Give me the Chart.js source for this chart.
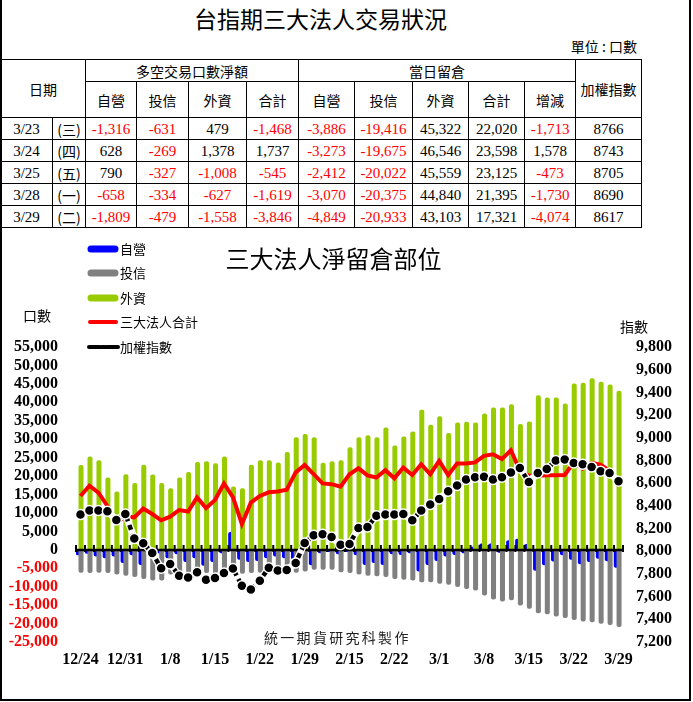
<!DOCTYPE html>
<html>
<head>
<meta charset="utf-8">
<script src="https://cdn.jsdelivr.net/npm/chart.js@4.4.1/dist/chart.umd.min.js"></script>
<style>
  body { margin: 0; background: #fff; }
  #page { position: relative; width: 693px; height: 702px; overflow: hidden; font-family: "Noto Sans CJK TC", sans-serif; color: #000; }
  #frame { position: absolute; left: 0; top: -3px; width: 691px; height: 704px; box-sizing: border-box; border: 2px solid #000; }
  .abs { position: absolute; white-space: nowrap; }
  #title { left: 0; top: 4px; width: 641px; text-align: center; font-size: 23px; line-height: 28px; }
  #unit { left: 560px; top: 37px; width: 77px; text-align: right; font-size: 14px; line-height: 18px; }
  #tbl { position: absolute; left: 0; top: 59px; border-collapse: collapse; table-layout: fixed; width: 642px; }
  #tbl td { border: 1px solid #000; text-align: center; padding: 0; font-size: 14px; line-height: 16px; }
  #tbl td.n { font-family: "Liberation Serif", serif; font-size: 15px; }
  #tbl td.neg { color: #f00; }
  #oi { position: absolute; left: 0; top: 230px; }
  #ctitle { left: 0; top: 243px; width: 667px; text-align: center; font-size: 24px; line-height: 30px; }
  .lg { position: absolute; left: 86px; height: 18px; font-size: 13px; line-height: 18px; }
  .lg svg { position: absolute; left: 0; top: 4px; }
  .lg span { position: absolute; left: 34px; top: 0; white-space: nowrap; }
  #ylab { left: 23px; top: 306px; font-size: 14px; line-height: 18px; }
  #y1lab { left: 620px; top: 317px; font-size: 14px; line-height: 18px; }
  #mark { left: 264px; top: 628px; font-size: 14px; line-height: 18px; letter-spacing: 2.3px; color: #222; }
</style>
</head>
<body>
<div id="page">
  <div class="abs" id="title">台指期三大法人交易狀況</div>
  <div class="abs" id="unit">單位 : 口數</div>
  <table id="tbl"></table>
  <canvas id="oi" width="693" height="472"></canvas>
  <div class="abs" id="ctitle">三大法人淨留倉部位</div>
  <div id="legend"></div>
  <div class="abs" id="ylab">口數</div>
  <div class="abs" id="y1lab">指數</div>
  <div class="abs" id="mark">統一期貨研究科製作</div>
  <div id="frame"></div>
</div>
<script>
// trading days, 12/24 .. 3/29
const dates = ['12/24','12/25','12/28','12/29','12/30','12/31','1/4','1/5','1/6','1/7',
  '1/8','1/11','1/12','1/13','1/14','1/15','1/18','1/19','1/20','1/21',
  '1/22','1/25','1/26','1/27','1/28','1/29','1/30','2/1','2/2','2/3',
  '2/15','2/16','2/17','2/18','2/19','2/22','2/23','2/24','2/25','2/26',
  '3/1','3/2','3/3','3/4','3/7','3/8','3/9','3/10','3/11','3/14',
  '3/15','3/16','3/17','3/18','3/21','3/22','3/23','3/24','3/25','3/28','3/29'];

// net open interest (contracts)
const dealer = [-1500,-1100,-1800,-2300,-1800,-3600,-1500,-4100,-1400,-900,
  -2300,-1200,-3300,-2300,-4300,-3300,-900,4800,-2700,-3300,
  -3000,-2300,-1800,-2300,-2700,-900,-4200,-900,-600,-1200,
  -600,-1500,-4100,-3600,-4100,-1200,-1400,-900,-5900,-4100,
  -3000,-1800,-1400,-900,800,1700,1700,-800,2600,3000,
  1600,-5700,-4200,-3200,-1500,-2700,-3886,-3273,-2412,-3070,-4849];
const trust = [-6200,-6300,-6200,-6300,-6700,-7000,-7400,-7900,-8300,-8300,
  -6700,-6500,-6300,-6500,-6300,-6700,-6500,-6500,-6500,-6300,
  -6200,-6100,-6100,-6200,-6200,-5900,-5400,-5400,-5400,-6100,
  -6300,-6700,-7000,-7200,-7400,-7900,-8100,-8300,-8800,-8800,
  -9200,-9500,-10100,-10600,-11000,-12400,-13500,-14000,-13700,-15100,
  -16000,-17200,-17500,-18100,-18500,-19000,-19416,-19675,-20022,-20375,-20933];
const foreign = [23000,25300,24300,19600,15800,20500,18100,23100,20400,18100,
  16700,19600,21100,23800,24000,23500,25300,17200,16700,23100,
  24300,24300,23700,26500,30500,31400,30500,23600,24000,24300,
  27800,30500,31100,30500,33200,28300,30700,32100,38000,33900,
  36200,31700,34500,34700,34500,37000,38600,38600,39500,34100,
  34800,41900,41300,41300,39700,45100,45322,46546,45559,44840,43103];
const total = [14600,17400,15500,11900,7500,9000,8800,11200,9700,8000,
  9000,10800,10400,14200,11300,13500,18000,14300,7000,12800,
  14600,15600,15800,16300,21000,23000,20500,18000,17800,17100,
  20500,22100,20200,19600,21600,19400,22300,20300,23200,20500,
  24100,20300,23400,23400,23700,25500,25900,24600,27000,21500,
  20100,20100,20200,20200,20300,23733,22020,23598,23125,21395,17321];
const taiex = [8323,8359,8359,8352,8275,8329,8112,8070,7985,7850,
  7888,7783,7768,7815,7748,7765,7809,7848,7695,7662,
  7740,7855,7830,7835,7897,8073,8140,8150,8125,8058,
  8064,8205,8214,8312,8323,8323,8329,8273,8359,8411,
  8460,8529,8579,8632,8653,8656,8632,8653,8695,8734,
  8611,8690,8725,8800,8808,8778,8766,8743,8705,8690,8617];

// table: last five sessions
const tblDays = ['3/23','3/24','3/25','3/28','3/29'];
const tblWeek = ['(三)','(四)','(五)','(一)','(二)'];
const netDealer = [-1316, 628, 790, -658, -1809];
const netTrust = [-631, -269, -327, -334, -479];
const netForeign = [479, 1378, -1008, -627, -1558];
const netTotal = [-1468, 1737, -545, -1619, -3846];
const oiChange = [-1713, 1578, -473, -1730, -4074];

// ---- table ----
function fmt(v) { return v.toLocaleString('en-US'); }
function numCell(v, plain) {
  return '<td class="n' + (v < 0 ? ' neg' : '') + '">' + (plain ? String(v) : fmt(v)) + '</td>';
}
const colW = [52, 33, 51, 52, 58, 52, 56, 58, 56, 56, 51, 66];
let html = '<colgroup>' + colW.map(w => '<col style="width:' + w + 'px">').join('') + '</colgroup>';
html += '<tr style="height:22px"><td colspan="2" rowspan="2">日期</td><td colspan="4">多空交易口數淨額</td>' +
  '<td colspan="5">當日留倉</td><td rowspan="2">加權指數</td></tr>';
html += '<tr style="height:36px">' + ['自營','投信','外資','合計','自營','投信','外資','合計','增減']
  .map(t => '<td>' + t + '</td>').join('') + '</tr>';
const off = dates.length - tblDays.length;
tblDays.forEach((d, r) => {
  html += '<tr style="height:22px"><td class="n">' + d + '</td><td>' + tblWeek[r] + '</td>' +
    numCell(netDealer[r]) + numCell(netTrust[r]) + numCell(netForeign[r]) + numCell(netTotal[r]) +
    numCell(dealer[off + r]) + numCell(trust[off + r]) + numCell(foreign[off + r]) + numCell(total[off + r]) +
    numCell(oiChange[r]) + numCell(taiex[off + r], true) + '</tr>';
});
document.getElementById('tbl').innerHTML = html;

// ---- chart ----
const idx = dates.map((d, i) => i);
const pts = arr => arr.map((v, i) => ({ x: idx[i], y: v }));
const barAxis = shift => ({ type: 'linear', display: false, offset: false,
  min: -0.5 + shift, max: dates.length - 0.5 + shift });

// zero line with cross ticks at category boundaries
const zeroAxis = {
  id: 'zeroAxis',
  afterDatasetDraw(chart, args) {
    if (args.index !== 3) return;
    const { ctx, chartArea } = chart;
    const xs = chart.scales.x;
    const y0 = Math.round(chart.scales.y.getPixelForValue(0));
    const step = xs.getPixelForValue(1) - xs.getPixelForValue(0);
    ctx.save();
    ctx.strokeStyle = '#000';
    ctx.lineWidth = 2.5;
    ctx.beginPath();
    ctx.moveTo(chartArea.left, y0);
    ctx.lineTo(chartArea.right, y0);
    ctx.stroke();
    ctx.lineWidth = 2;
    ctx.beginPath();
    for (let k = 0; k <= dates.length; k++) {
      const x = xs.getPixelForValue(0) - step / 2 + k * step;
      ctx.moveTo(x, y0 - 5);
      ctx.lineTo(x, y0 + 2);
    }
    ctx.stroke();
    ctx.restore();
  }
};

const tickFont = { family: 'Liberation Serif', size: 16, weight: 'bold' };
const barCommon = { grouped: false, categoryPercentage: 1, barPercentage: 0.56, borderRadius: 2 };

const chart = new Chart(document.getElementById('oi').getContext('2d'), {
  type: 'bar',
  data: {
    labels: dates,
    datasets: [
      { type: 'line', label: '加權指數', data: taiex, yAxisID: 'y1', xAxisID: 'x',
        borderColor: '#000', borderWidth: 4.5, borderDash: [5, 4],
        pointRadius: 5, pointBackgroundColor: '#000', pointBorderColor: '#fff', pointBorderWidth: 1.5 },
      { type: 'line', label: '', data: taiex, yAxisID: 'y1', xAxisID: 'x',
        borderColor: '#fff', borderWidth: 7, pointRadius: 0 },
      { type: 'line', label: '三大法人合計', data: total, yAxisID: 'y', xAxisID: 'x',
        borderColor: '#ff0000', borderWidth: 4, pointRadius: 0 },
      Object.assign({ label: '外資', data: pts(foreign), xAxisID: 'xGreen', yAxisID: 'y', backgroundColor: '#99cc00' }, barCommon),
      Object.assign({ label: '投信', data: pts(trust), xAxisID: 'xGray', yAxisID: 'y', backgroundColor: '#808080' }, barCommon),
      Object.assign({ label: '自營', data: pts(dealer), xAxisID: 'xBlue', yAxisID: 'y', backgroundColor: '#0000ff' }, barCommon)
    ]
  },
  options: {
    responsive: false,
    devicePixelRatio: 1,
    animation: false,
    layout: { padding: { top: 117, left: 0, right: 0, bottom: 0 } },
    plugins: { legend: { display: false }, tooltip: { enabled: false } },
    scales: {
      x: {
        type: 'category', offset: true,
        grid: { display: false, drawTicks: false }, border: { display: false },
        ticks: { autoSkip: false, maxRotation: 0, padding: 8, font: tickFont, color: '#000',
          callback: (v, i) => (i % 5 === 0 ? dates[i] : '') },
        afterFit: s => { s.height = 60; }
      },
      xBlue: barAxis(0.25),
      xGray: barAxis(-0.06),
      xGreen: barAxis(-0.06),
      y: {
        position: 'left', min: -25000, max: 55000,
        grid: { display: false, drawTicks: false }, border: { display: false },
        ticks: { stepSize: 5000, autoSkip: false, padding: 18, font: tickFont,
          color: c => (c.tick.value < 0 ? '#ff0000' : '#000'),
          callback: v => fmt(v) },
        afterFit: s => { s.width = 76; }
      },
      y1: {
        position: 'right', min: 7200, max: 9800,
        grid: { display: false, drawTicks: false }, border: { display: false },
        ticks: { stepSize: 200, autoSkip: false, padding: 13, font: tickFont, color: '#000', callback: v => fmt(v) },
        afterFit: s => { s.width = 70; }
      }
    }
  },
  plugins: [zeroAxis]
});

// ---- legend (vertical, top left) ----
const legendItems = [5, 4, 3, 2, 0].map(i => chart.data.datasets[i]);
const legendBox = document.getElementById('legend');
legendItems.forEach((ds, k) => {
  const color = ds.type === 'line' ? ds.borderColor : ds.backgroundColor;
  let sym;
  if (ds.type !== 'line') {
    sym = '<line x1="5" y1="5" x2="29" y2="5" stroke="' + color + '" stroke-width="7" stroke-linecap="round"/>';
  } else if (ds.borderDash) {
    sym = '<line x1="3" y1="5" x2="32" y2="5" stroke="' + color + '" stroke-width="4" stroke-dasharray="11,2,3,2,12" stroke-linecap="round"/>';
  } else {
    sym = '<line x1="4" y1="5" x2="30" y2="5" stroke="' + color + '" stroke-width="4" stroke-linecap="round"/>';
  }
  const item = document.createElement('div');
  item.className = 'lg';
  item.style.top = (240 + k * 24.4) + 'px';
  item.innerHTML = '<svg width="34" height="10">' + sym + '</svg><span>' + ds.label + '</span>';
  legendBox.appendChild(item);
});
</script>
</body>
</html>
